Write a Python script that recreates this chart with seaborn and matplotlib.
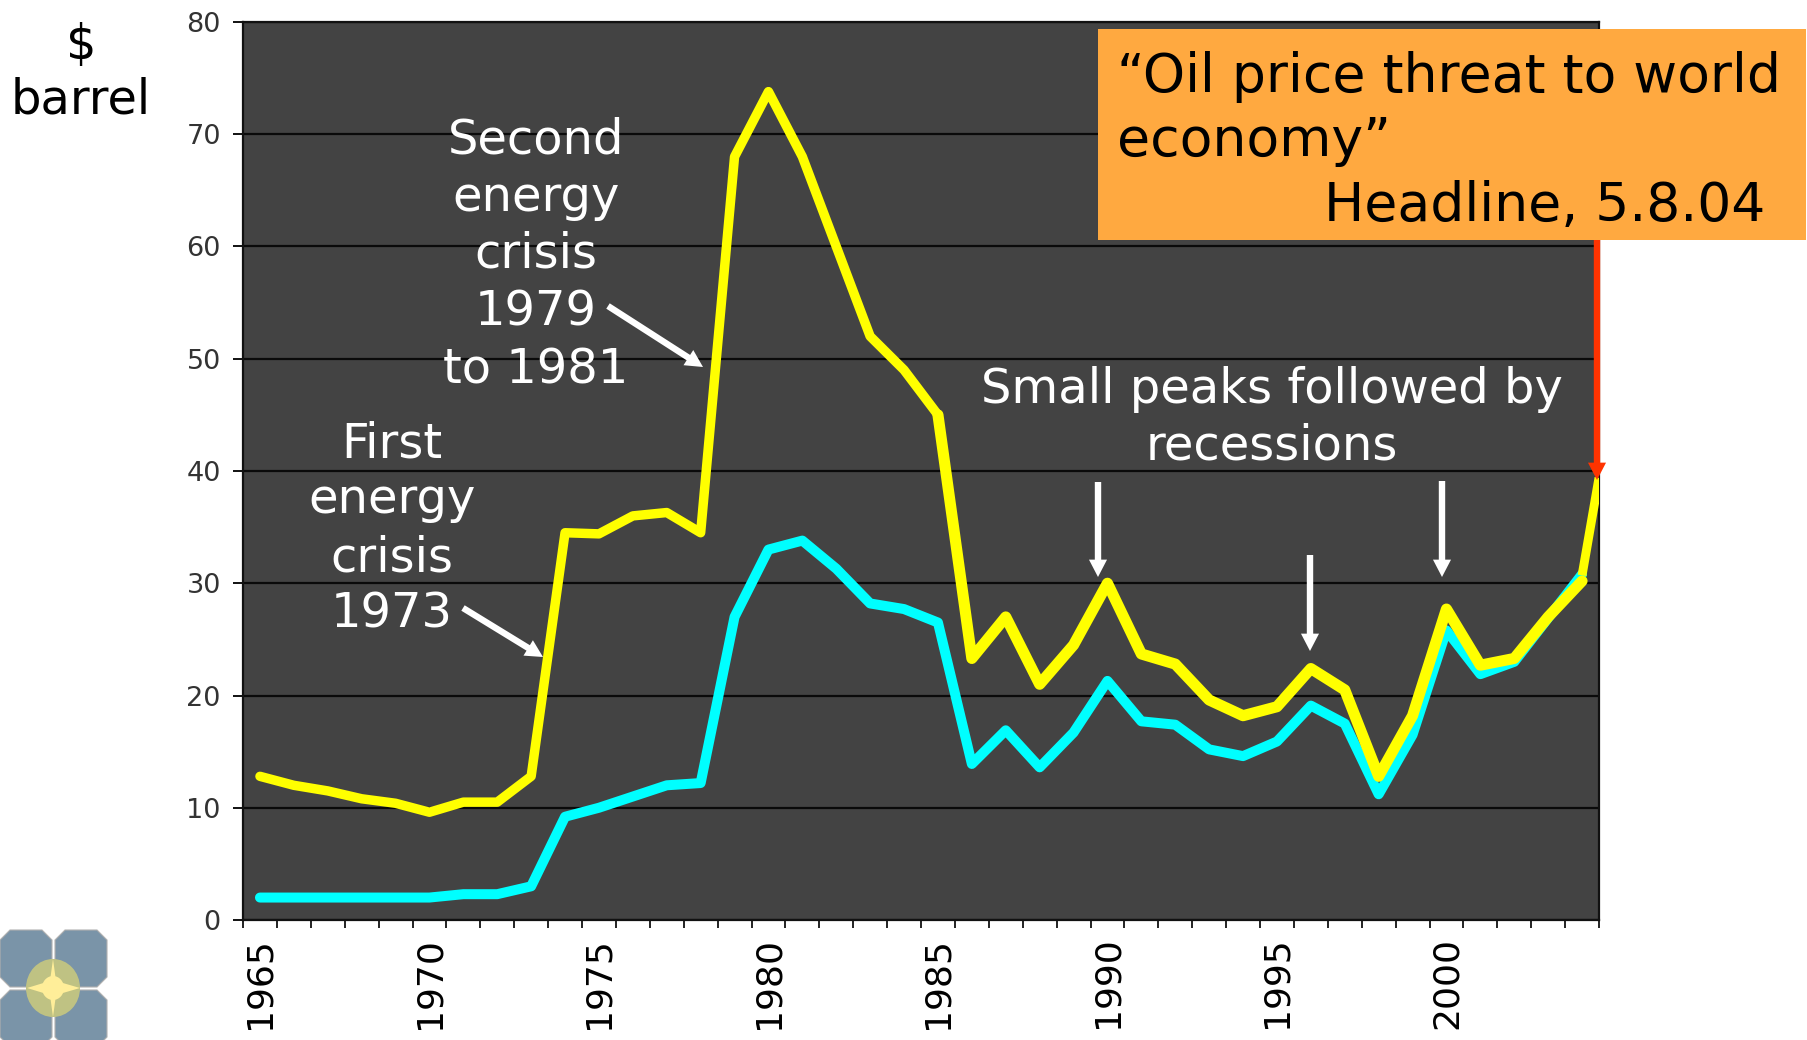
import pandas as pd
import matplotlib
matplotlib.use('Agg')
import matplotlib.pyplot as plt
from matplotlib.patches import Polygon, Ellipse, Rectangle
import seaborn as sns

# Данные
years = list(range(1965, 2005))
nominal = [2.0, 2.0, 2.0, 2.0, 2.0, 2.0, 2.3, 2.3, 3.0, 9.2,
           10.0, 11.0, 12.0, 12.2, 27.0, 33.0, 33.8, 31.3, 28.2, 27.7,
           26.5, 13.9, 16.9, 13.6, 16.7, 21.3, 17.7, 17.4, 15.2, 14.6,
           15.9, 19.1, 17.5, 11.2, 16.5, 25.8, 21.9, 23.0, 26.9, 30.8]
real = [12.8, 12.0, 11.5, 10.8, 10.4, 9.6, 10.5, 10.5, 12.8, 34.5,
        34.4, 36.0, 36.3, 34.5, 68.0, 73.8, 68.0, 60.0, 52.0, 49.0,
        45.0, 23.3, 27.0, 21.0, 24.5, 30.0, 23.7, 22.8, 19.6, 18.2,
        19.0, 22.4, 20.5, 12.8, 18.2, 27.7, 22.7, 23.3, 27.0, 30.2]
jump_x = [2004, 2004.5]
jump_y = [30.7, 39.4]
y_ticks = [0, 10, 20, 30, 40, 50, 60, 70, 80]
label_years = [1965, 1970, 1975, 1980, 1985, 1990, 1995, 2000]

W, H = 1808, 1040
DARK = '#434343'

sns.set_theme(style='white')
plt.rcParams['font.family'] = ['DejaVu Sans']

fig = plt.figure(figsize=(W / 100, H / 100), dpi=100, facecolor='white')
ax = fig.add_axes([243 / W, 1 - 920 / H, (1599 - 243) / W, (920 - 22) / H])
ax.set_facecolor(DARK)

df = pd.DataFrame({'year': years, 'nominal': nominal, 'real': real})
df_jump = pd.DataFrame({'year': jump_x, 'value': jump_y})
line_style = dict(solid_joinstyle='round', solid_capstyle='round', errorbar=None)
sns.lineplot(data=df, x='year', y='nominal', color='#00FFFF', linewidth=7.2, ax=ax, zorder=3, **line_style)
sns.lineplot(data=df[df.year <= 1985], x='year', y='real', color='#FFFF00', linewidth=6.8, ax=ax, zorder=4, **line_style)
sns.lineplot(data=df[df.year >= 1985], x='year', y='real', color='#FFFF00', linewidth=8.0, ax=ax, zorder=4, **line_style)
sns.lineplot(data=df_jump, x='year', y='value', color='#FFFF00', linewidth=6.4, ax=ax, zorder=5,
             solid_capstyle='butt', errorbar=None)

ax.set_xlim(1964.5, 2004.5)
ax.set_ylim(0, 80)
ax.set_xlabel('')
ax.set_ylabel('')
ax.set_yticks(y_ticks)
ax.yaxis.grid(True, color='#0a0a0a', linewidth=1.6)
ax.set_axisbelow(True)
ax.set_xticks(label_years)
ax.set_xticklabels([str(y) for y in label_years], rotation=90, fontsize=26, color='black')
ax.set_xticks([1964.5 + i for i in range(41)], minor=True)
ax.tick_params(axis='x', which='major', length=0, pad=12, bottom=True)
ax.tick_params(axis='x', which='minor', length=6, width=1.3, color='#111111', bottom=True)
ax.tick_params(axis='y', length=7, width=1.4, color='#111111', labelsize=19.5, labelcolor='#333333', pad=9, left=True)
for s in ax.spines.values():
    s.set_visible(True)
    s.set_color('#111111')
    s.set_linewidth(1.6)

# Верхний слой в пикселях картинки: подписи, стрелки, плашка, логотип
top = fig.add_axes([0, 0, 1, 1], facecolor='none')
top.set_xlim(0, W)
top.set_ylim(H, 0)
top.axis('off')


def arrow(x0, y0, x1, y1, color='white', z=6):
    top.annotate('', xy=(x1, y1), xytext=(x0, y0), zorder=z,
                 arrowprops=dict(width=4.6, headwidth=13, headlength=12.5, color=color, shrink=0, lw=0))


arrow(463, 608, 543, 657)
arrow(608, 306, 703, 367)
arrow(1098, 482, 1098, 577)
arrow(1310, 555, 1310, 651)
arrow(1442, 481, 1442, 577)
arrow(1597, 200, 1597, 480, color='#FF3300', z=5)

for txt, x, y in [('First', 392, 458), ('energy', 392, 513), ('crisis', 392, 571), ('1973', 392, 628),
                  ('Second', 536, 154), ('energy', 536, 211), ('crisis', 536, 267), ('1979', 536, 325),
                  ('to 1981', 536, 384),
                  ('Small peaks followed by', 1272, 403), ('recessions', 1272, 459)]:
    top.text(x, y, txt, color='white', fontsize=34.6, ha='center', va='baseline', zorder=7)

top.text(81, 59, '$', color='black', fontsize=34.5, ha='center', va='baseline', parse_math=False)
top.text(81, 114, 'barrel', color='black', fontsize=34.5, ha='center', va='baseline')

# Плашка с заголовком
top.add_patch(Rectangle((1098, 29), 708, 211, facecolor='#FFA940', edgecolor='none', zorder=8))
top.text(1117, 92, '\u201cOil price threat to world', color='black', fontsize=38.6, va='baseline', zorder=9)
top.text(1117, 156, 'economy\u201d', color='black', fontsize=38.6, va='baseline', zorder=9)
top.text(1324, 221, 'Headline, 5.8.04', color='black', fontsize=38.6, va='baseline', zorder=9)

# Логотип
BLUE = '#7A94A8'
for x0, y0 in [(0, 930), (55, 930), (0, 990), (55, 990)]:
    w, h, c = 52, 57, 10
    pts = [(x0 + c, y0), (x0 + w - c, y0), (x0 + w, y0 + c), (x0 + w, y0 + h - c),
           (x0 + w - c, y0 + h), (x0 + c, y0 + h), (x0, y0 + h - c), (x0, y0 + c)]
    top.add_patch(Polygon(pts, facecolor=BLUE, edgecolor='#b0b0b0', linewidth=0.8))
top.add_patch(Ellipse((53, 988), 54, 58, facecolor='#BFC283', edgecolor='none'))
top.add_patch(Polygon([(53, 959), (56, 981), (80, 988), (56, 995), (53, 1017), (50, 995), (27, 988), (50, 981)],
                      facecolor='#FFEE99', edgecolor='none'))
top.add_patch(Ellipse((53, 988), 22, 24, facecolor='#FFEE99', edgecolor='none'))

fig.savefig('out.png', dpi=100)
